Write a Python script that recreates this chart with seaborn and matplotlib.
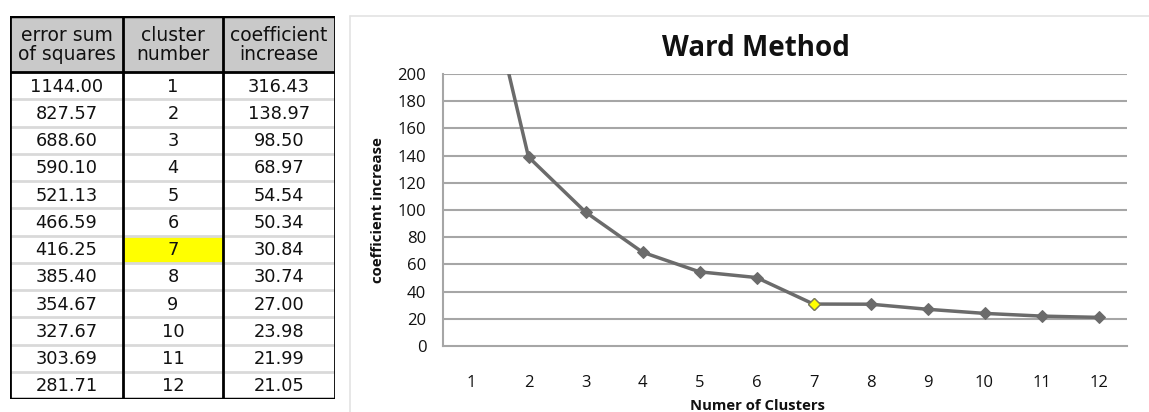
import numpy as np
import pandas as pd
import matplotlib
matplotlib.use("Agg")
import matplotlib.pyplot as plt
from matplotlib.patches import Rectangle
import seaborn as sns

# ---- data ----
error_sum = ["1144.00", "827.57", "688.60", "590.10", "521.13", "466.59",
             "416.25", "385.40", "354.67", "327.67", "303.69", "281.71"]
cluster_number = [1, 2, 3, 4, 5, 6, 7, 8, 9, 10, 11, 12]
coef_increase = [316.43, 138.97, 98.50, 68.97, 54.54, 50.34,
                 30.84, 30.74, 27.00, 23.98, 21.99, 21.05]
headers = ["error sum\nof squares", "cluster\nnumber", "coefficient\nincrease"]
highlight_cluster = 7
y_ticks = [0, 20, 40, 60, 80, 100, 120, 140, 160, 180, 200]

sns.set_theme(style="white")
plt.rcParams["font.family"] = ["DejaVu Sans"]

W, H = 1149, 412
fig = plt.figure(figsize=(W / 100, H / 100), dpi=100)

# ---- outer light frame of the chart panel ----
fig.add_artist(plt.Line2D([350 / W, 350 / W], [0, 1 - 16 / H], color="#e3e3e3", lw=1.2))
fig.add_artist(plt.Line2D([350 / W, 1], [1 - 16 / H, 1 - 16 / H], color="#e3e3e3", lw=1.2))

# ---- table (left) ----
tx0, tx1, ty0, ty1 = 10, 335, 16, 399
tab = fig.add_axes([tx0 / W, 1 - ty1 / H, (tx1 - tx0) / W, (ty1 - ty0) / H])
tab.set_xlim(0, tx1 - tx0)
tab.set_ylim(ty1 - ty0, 0)
tab.axis("off")
col_edges = [0, 113, 213, 325]
header_h = 56
row_h = (ty1 - ty0 - header_h) / len(cluster_number)
tab.add_patch(Rectangle((0, 0), 325, header_h, facecolor="#c9c9c9", edgecolor="none"))
for i, c in enumerate(cluster_number):
    y = header_h + i * row_h
    if c == highlight_cluster:
        tab.add_patch(Rectangle((col_edges[1], y), col_edges[2] - col_edges[1], row_h,
                                facecolor="#ffff00", edgecolor="none"))
    if i > 0:
        tab.plot([0, 325], [y, y], color="#d9d9d9", lw=2, zorder=1)
    vals = [error_sum[i], str(c), f"{coef_increase[i]:.2f}"]
    for j, v in enumerate(vals):
        tab.text((col_edges[j] + col_edges[j + 1]) / 2, y + row_h / 2 + 1, v,
                 ha="center", va="center", fontsize=12.8, color="#111111")
for j, h in enumerate(headers):
    tab.text((col_edges[j] + col_edges[j + 1]) / 2, header_h / 2 + 1, h,
             ha="center", va="center", fontsize=13.5, color="#111111", linespacing=1.0)
tab.plot([0, 325], [header_h, header_h], color="black", lw=2, zorder=3)
for xe in col_edges:
    tab.plot([xe, xe], [0, ty1 - ty0], color="black", lw=2, zorder=3)
tab.plot([0, 325], [0, 0], color="black", lw=2.5, zorder=3)
tab.plot([0, 325], [ty1 - ty0, ty1 - ty0], color="black", lw=2.5, zorder=3)

# ---- line chart (right) ----
ax = fig.add_axes([443 / W, 1 - 346 / H, (1127 - 443) / W, (346 - 74) / H])
df = pd.DataFrame({"clusters": cluster_number, "coef": coef_increase})
line_color = "#6b6b6b"
sns.lineplot(data=df, x="clusters", y="coef", ax=ax, color=line_color, lw=2.5,
             marker="D", markersize=6.5, markeredgecolor=line_color, zorder=3)
hl = df[df["clusters"] == highlight_cluster]
ax.plot(hl["clusters"], hl["coef"], linestyle="none", marker="D", markersize=6,
        markerfacecolor="#ffff00", markeredgecolor="#7a7a5a", markeredgewidth=1, zorder=4)

ax.set_xlim(0.5, 12.5)
ax.set_ylim(0, 200)
ax.set_yticks(y_ticks)
ax.set_xticks(cluster_number)
for yv in y_ticks[1:]:
    ax.axhline(yv, color="#a6a6a6", lw=1.5, zorder=1)
for s in ["top", "right"]:
    ax.spines[s].set_visible(False)
ax.spines["left"].set_color("#a6a6a6")
ax.spines["bottom"].set_color("#a6a6a6")
ax.spines["left"].set_linewidth(1.5)
ax.spines["bottom"].set_linewidth(1.5)
ax.tick_params(axis="x", length=0, pad=21, labelsize=12, labelcolor="#111111")
ax.tick_params(axis="y", length=0, pad=12, labelsize=12, labelcolor="#111111")
for lab in ax.get_xticklabels() + ax.get_yticklabels():
    lab.set_family(["Open Sans", "DejaVu Sans"])
ax.set_xlabel("")
ax.set_ylabel("")
ax.set_facecolor("white")

fig.text(756 / W, 1 - 48 / H, "Ward Method", ha="center", va="center",
         fontsize=20, fontweight="bold", family=["Open Sans", "DejaVu Sans"], color="#111111")
fig.text(378 / W, 1 - 210 / H, "coefficient increase", ha="center", va="center",
         rotation=90, fontsize=10.8, fontweight="bold", family=["Open Sans", "DejaVu Sans"],
         color="#111111")
fig.text(757 / W, 1 - 406 / H, "Numer of Clusters", ha="center", va="center",
         fontsize=10.7, fontweight="bold", family=["Open Sans", "DejaVu Sans"], color="#111111")

fig.savefig("out.png", dpi=100, facecolor="white")
